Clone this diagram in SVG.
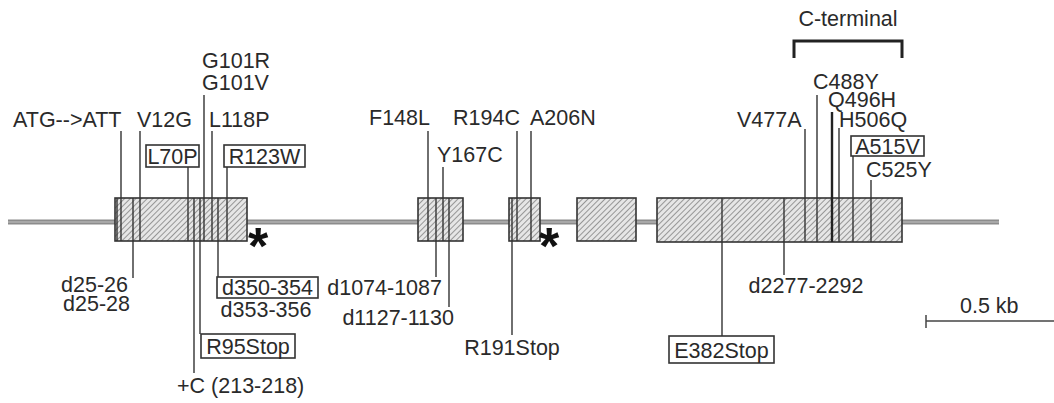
<svg xmlns="http://www.w3.org/2000/svg" width="1054" height="403" viewBox="0 0 1054 403">
<defs>
<pattern id="hatch" patternUnits="userSpaceOnUse" width="4" height="4" patternTransform="rotate(45)">
<rect width="4" height="4" fill="#e6e6e6"/>
<line x1="0" y1="0" x2="0" y2="4" stroke="#6a6a6a" stroke-width="1.3"/>
</pattern>
<style>
text{font-family:"Liberation Sans",Arial,sans-serif;font-size:21.5px;fill:#2a2a2a}
.exon{fill:url(#hatch);stroke:#333;stroke-width:1.6}
.lbox{fill:#fff;stroke:#333;stroke-width:1.6}
.ln{stroke:#333;stroke-width:1.4;fill:none}
.thk{stroke:#222;stroke-width:2.4}
.star{font-size:52px;font-weight:bold;fill:#111}
</style>
</defs>
<rect width="1054" height="403" fill="#fff"/>
<g id="backbone">
<line x1="8" y1="222" x2="999" y2="222" stroke="#8c8c8c" stroke-width="5"/>
<line x1="8" y1="222" x2="999" y2="222" stroke="#c4c4c4" stroke-width="1.2"/>
</g>
<g id="exon1"><rect class="exon" x="115" y="198" width="132" height="43"/></g>
<g id="exon2"><rect class="exon" x="418" y="198" width="45" height="43"/></g>
<g id="exon3"><rect class="exon" x="509" y="198" width="31" height="43"/></g>
<g id="exon4"><rect class="exon" x="577" y="198" width="59" height="43"/></g>
<g id="exon5"><rect class="exon" x="657" y="198" width="245" height="44"/></g>
<g id="connectors">
<line class="ln" x1="117" y1="198" x2="117" y2="241"/>
<line class="ln" x1="121" y1="131" x2="121" y2="241"/>
<line class="ln" x1="133" y1="198" x2="133" y2="278"/>
<line class="ln" x1="140" y1="131" x2="140" y2="241"/>
<line class="ln" x1="188" y1="167" x2="188" y2="241"/>
<line class="ln" x1="194" y1="198" x2="194" y2="373"/>
<line class="ln" x1="200" y1="198" x2="200" y2="334"/>
<line class="ln" x1="204" y1="95" x2="204" y2="241"/>
<line class="ln" x1="212" y1="131" x2="212" y2="241"/>
<line class="ln" x1="218" y1="198" x2="218" y2="277"/>
<line class="ln" x1="227" y1="167" x2="227" y2="241"/>
<line class="ln" x1="428" y1="131" x2="428" y2="241"/>
<line class="ln" x1="436" y1="198" x2="436" y2="277"/>
<line class="ln" x1="443" y1="167" x2="443" y2="241"/>
<line class="ln" x1="449" y1="198" x2="449" y2="307"/>
<line class="ln" x1="512" y1="198" x2="512" y2="335"/>
<line class="ln" x1="517" y1="131" x2="517" y2="241"/>
<line class="ln" x1="531" y1="131" x2="531" y2="241"/>
<line class="ln" x1="722" y1="198" x2="722" y2="336"/>
<line class="ln" x1="784" y1="198" x2="784" y2="275"/>
<line class="ln" x1="805" y1="129" x2="805" y2="242"/>
<line class="ln" x1="817" y1="95" x2="817" y2="242"/>
<line class="ln thk" x1="832" y1="112" x2="832" y2="242"/>
<line class="ln" x1="839" y1="128" x2="839" y2="242"/>
<line class="ln" x1="853" y1="156" x2="853" y2="242"/>
<line class="ln" x1="871" y1="180" x2="871" y2="242"/>
</g>
<g id="stars">
<text class="star" x="248" y="264">*</text>
<text class="star" x="539" y="264">*</text>
</g>
<g id="lab-ATG"><text x="13" y="127">ATG--&gt;ATT</text></g>
<g id="lab-V12G"><text x="137" y="127">V12G</text></g>
<g id="lab-L118P"><text x="209" y="127">L118P</text></g>
<g id="lab-G101"><text x="202" y="68">G101R</text><text x="202" y="90">G101V</text></g>
<g id="lab-L70P"><rect class="lbox" x="146" y="145" width="53" height="22"/><text x="172.5" y="164" text-anchor="middle">L70P</text></g>
<g id="lab-R123W"><rect class="lbox" x="224" y="145" width="81" height="22"/><text x="264.5" y="164" text-anchor="middle">R123W</text></g>
<g id="lab-d25"><text x="128" y="292" text-anchor="end">d25-26</text><text x="130" y="311" text-anchor="end">d25-28</text></g>
<g id="lab-d350"><rect class="lbox" x="217" y="277" width="101" height="21"/><text x="267.5" y="295" text-anchor="middle">d350-354</text><text x="266" y="317" text-anchor="middle">d353-356</text></g>
<g id="lab-R95Stop"><rect class="lbox" x="201" y="334" width="94" height="24"/><text x="248" y="354" text-anchor="middle">R95Stop</text></g>
<g id="lab-plusC"><text x="177" y="393">+C (213-218)</text></g>
<g id="lab-F148L"><text x="369" y="125">F148L</text></g>
<g id="lab-Y167C"><text x="437" y="162">Y167C</text></g>
<g id="lab-R194C"><text x="453" y="125">R194C</text></g>
<g id="lab-A206N"><text x="530" y="125">A206N</text></g>
<g id="lab-d1074"><text x="442" y="295" text-anchor="end">d1074-1087</text></g>
<g id="lab-d1127"><text x="454" y="325" text-anchor="end">d1127-1130</text></g>
<g id="lab-R191Stop"><text x="512" y="355" text-anchor="middle">R191Stop</text></g>
<g id="lab-V477A"><text x="737" y="127">V477A</text></g>
<g id="lab-C488Y"><text x="813" y="89">C488Y</text></g>
<g id="lab-Q496H"><text x="828" y="107">Q496H</text></g>
<g id="lab-H506Q"><text x="839" y="127">H506Q</text></g>
<g id="lab-A515V"><rect class="lbox" x="851" y="136" width="73" height="20"/><text x="887.5" y="154" text-anchor="middle">A515V</text></g>
<g id="lab-C525Y"><text x="866" y="177">C525Y</text></g>
<g id="lab-d2277"><text x="806" y="293" text-anchor="middle">d2277-2292</text></g>
<g id="lab-E382Stop"><rect class="lbox" x="669" y="336" width="105" height="27"/><text x="721.5" y="358" text-anchor="middle">E382Stop</text></g>
<g id="cterm">
<text x="848" y="26" text-anchor="middle">C-terminal</text>
<path d="M794 58 V41 H902 V58" fill="none" stroke="#222" stroke-width="3"/>
</g>
<g id="scale">
<text x="960" y="313">0.5 kb</text>
<line x1="926" y1="321" x2="1054" y2="321" stroke="#444" stroke-width="1.5"/>
<line x1="926" y1="315" x2="926" y2="328" stroke="#444" stroke-width="1.5"/>
</g>
</svg>
